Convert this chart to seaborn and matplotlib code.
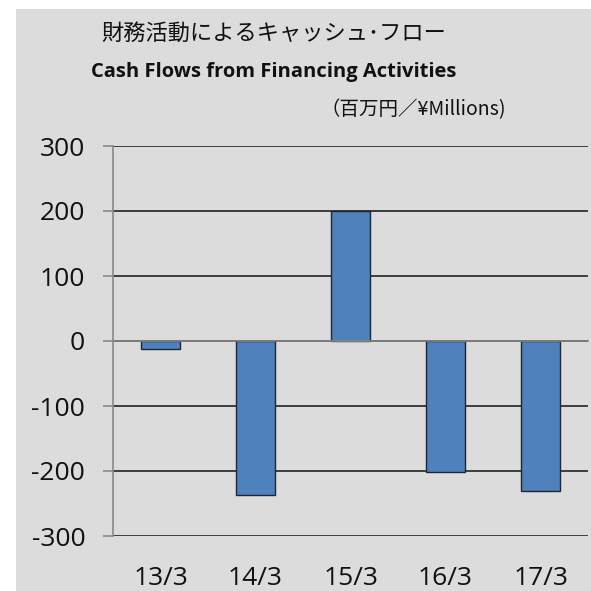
import matplotlib
matplotlib.use("Agg")
import matplotlib.pyplot as plt
import seaborn as sns
import pandas as pd
from matplotlib.patches import Rectangle
import matplotlib.transforms as mtransforms

categories = ["13/3", "14/3", "15/3", "16/3", "17/3"]
values = [-12, -237, 200, -202, -231]
yticks = [-300, -200, -100, 0, 100, 200, 300]

title_jp = "財務活動によるキャッシュ･フロー"
title_en = "Cash Flows from Financing Activities"
unit_label = "（百万円／¥Millions)"

sns.set_theme(style="white")
plt.rcParams["font.family"] = ["Noto Sans CJK JP", "DejaVu Sans"]

bg = "#dcdcdc"
fig = plt.figure(figsize=(5.91, 5.91), dpi=100)
fig.patch.set_facecolor("white")
fig.patches.append(Rectangle((16 / 591, 0), 1, 1 - 9 / 591, transform=fig.transFigure,
                             facecolor=bg, edgecolor="none", zorder=-10))

ax = fig.add_axes([113 / 591, 1 - 536 / 591, (588 - 113) / 591, (536 - 146) / 591])
ax.set_facecolor(bg)

df = pd.DataFrame({"period": categories, "value": values})
sns.barplot(data=df, x="period", y="value", ax=ax, color="#4f81bd", width=0.41,
            edgecolor="#1c2733", linewidth=1.0, saturation=1, zorder=3)

ax.set_ylim(-300, 300)
ax.set_xlim(-0.5, len(categories) - 0.5)
ax.set_yticks(yticks)
ax.set_yticklabels([str(v) for v in yticks], fontsize=19, family=["Open Sans", "DejaVu Sans"],
                   color="#111111")
ax.yaxis.grid(True, color="#222222", linewidth=1.2, zorder=0)
ax.set_axisbelow(True)

for s in ["top", "right"]:
    ax.spines[s].set_visible(False)
ax.spines["left"].set_color("#888888")
ax.spines["left"].set_linewidth(1.2)
ax.spines["bottom"].set_position(("data", 0))
ax.spines["bottom"].set_color("#888888")
ax.spines["bottom"].set_linewidth(1.2)
ax.spines["bottom"].set_zorder(4)

ax.set_xticks([i + 0.5 for i in range(-1, len(categories))])
ax.set_xticklabels([])
ax.tick_params(axis="x", direction="out", length=7, width=1.2, color="#888888")
ax.tick_params(axis="y", direction="out", length=7, width=1.2, color="#888888", pad=13, left=True)
ax.set_xlabel("")
ax.set_ylabel("")

trans = mtransforms.blended_transform_factory(ax.transData, ax.transAxes)
for i, c in enumerate(categories):
    ax.text(i, -0.108, c, transform=trans, ha="center", va="center", fontsize=19,
            family=["Open Sans", "DejaVu Sans"], color="#111111")

fig.text(274 / 591, 1 - 33 / 591, title_jp, ha="center", va="center", fontsize=16,
         color="#111111")
fig.text(274 / 591, 1 - 72 / 591, title_en, ha="center", va="center", fontsize=14.5,
         fontweight="bold", family=["Open Sans", "DejaVu Sans"], color="#111111")
fig.text(413 / 591, 1 - 110 / 591, unit_label, ha="center", va="center", fontsize=14,
         color="#111111")

fig.savefig("out.png", dpi=100, facecolor="white")
